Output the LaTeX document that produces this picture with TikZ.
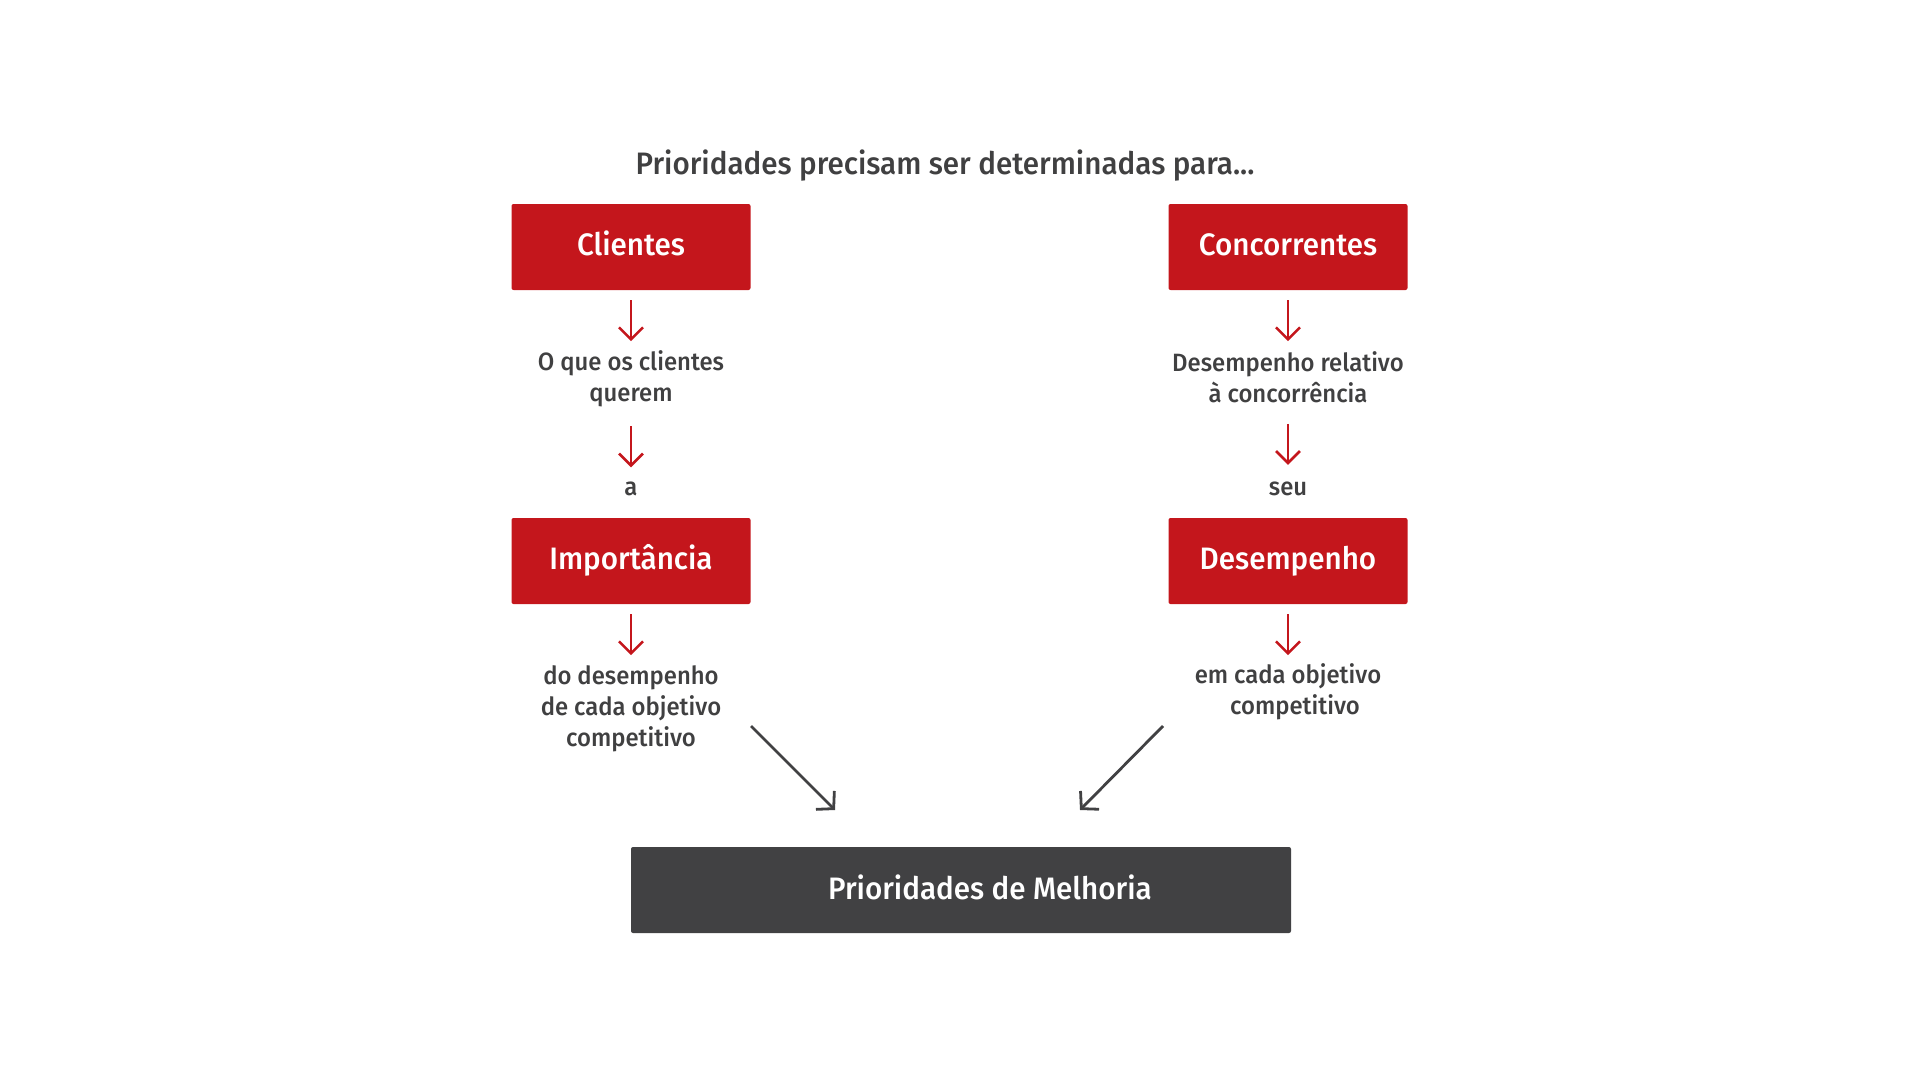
\documentclass[tikz,border=0pt]{standalone}
\usepackage{fontspec}
\setmainfont{Fira Sans Medium}[FakeStretch=0.955]
\usetikzlibrary{arrows.meta}
\definecolor{cred}{HTML}{C4161C}
\definecolor{cdark}{HTML}{414143}
\definecolor{ctext}{HTML}{404041}
\tikzset{
  redbox/.style={fill=cred, rounded corners=2pt, minimum width=239pt, minimum height=86pt, text=white, font=\fontsize{31}{36}\selectfont, inner sep=0pt, text height=24pt, text depth=7pt},
  darkbox/.style={fill=cdark, rounded corners=2pt, minimum width=660pt, minimum height=86pt, text=white, font=\fontsize{31}{36}\selectfont, inner sep=0pt, text height=26pt, text depth=7pt},
  lbl/.style={text=ctext, align=center, font=\fontsize{25}{31}\selectfont, inner sep=0pt},
  ttl/.style={text=ctext, font=\fontsize{31}{36}\selectfont, inner sep=0pt},
  ra/.style={draw=cred, line width=2.6pt, -{Straight Barb[length=12pt, width=24pt, line width=2.6pt]}},
  da/.style={draw=cdark, line width=2.8pt, -{Straight Barb[length=12pt, width=26pt, line width=2.8pt, line join=miter]}}
}
\begin{document}
\begin{tikzpicture}[x=1pt, y=1pt]
\useasboundingbox (0,0) rectangle (1920,-1081);
\node[ttl] (title) at (945,-166) {Prioridades precisam ser determinadas para...};
\node[redbox] (cli) at (631,-247) {Clientes};
\node[redbox] (con) at (1288,-247) {Concorrentes};
\node[lbl] (t1) at (631,-379) {O que os clientes\\querem};
\node[lbl] (t2) at (1288,-377) {Desempenho relativo\\à concorrência};
\node[lbl] (a) at (631,-489) {a};
\node[lbl] (seu) at (1288,-489) {seu};
\node[redbox] (imp) at (631,-561) {Importância};
\node[redbox] (des) at (1288,-561) {Desempenho};
\node[lbl] (t3) at (631,-709) {do desempenho\\de cada objetivo\\competitivo};
\node[lbl] (t4) at (1288,-692) {em cada objetivo\\\hspace*{14pt}competitivo};
\node[darkbox] (bot) at (961,-890) {\hspace*{58pt}Prioridades de Melhoria};
\draw[ra] ([yshift=-10pt]cli.south) -- ++(0,-41) coordinate (e1);
\draw[ra] ([yshift=-10pt]con.south) -- ++(0,-41) coordinate (e2);
\draw[ra] ([yshift=-19pt]t1.south) -- ++(0,-41) coordinate (e3);
\draw[ra] ([yshift=-21pt]t2.south) -- ++(0,-41) coordinate (e4);
\draw[ra] ([yshift=-10pt]imp.south) -- ++(0,-41) coordinate (e5);
\draw[ra] ([yshift=-10pt]des.south) -- ++(0,-41) coordinate (e6);
\coordinate (d1s) at (751,-726);
\coordinate (d1e) at (835,-810);
\coordinate (d2s) at (1163,-726);
\coordinate (d2e) at (1080,-810);
\draw[da] (d1s) -- (d1e);
\draw[da] (d2s) -- (d2e);
\end{tikzpicture}
\end{document}
